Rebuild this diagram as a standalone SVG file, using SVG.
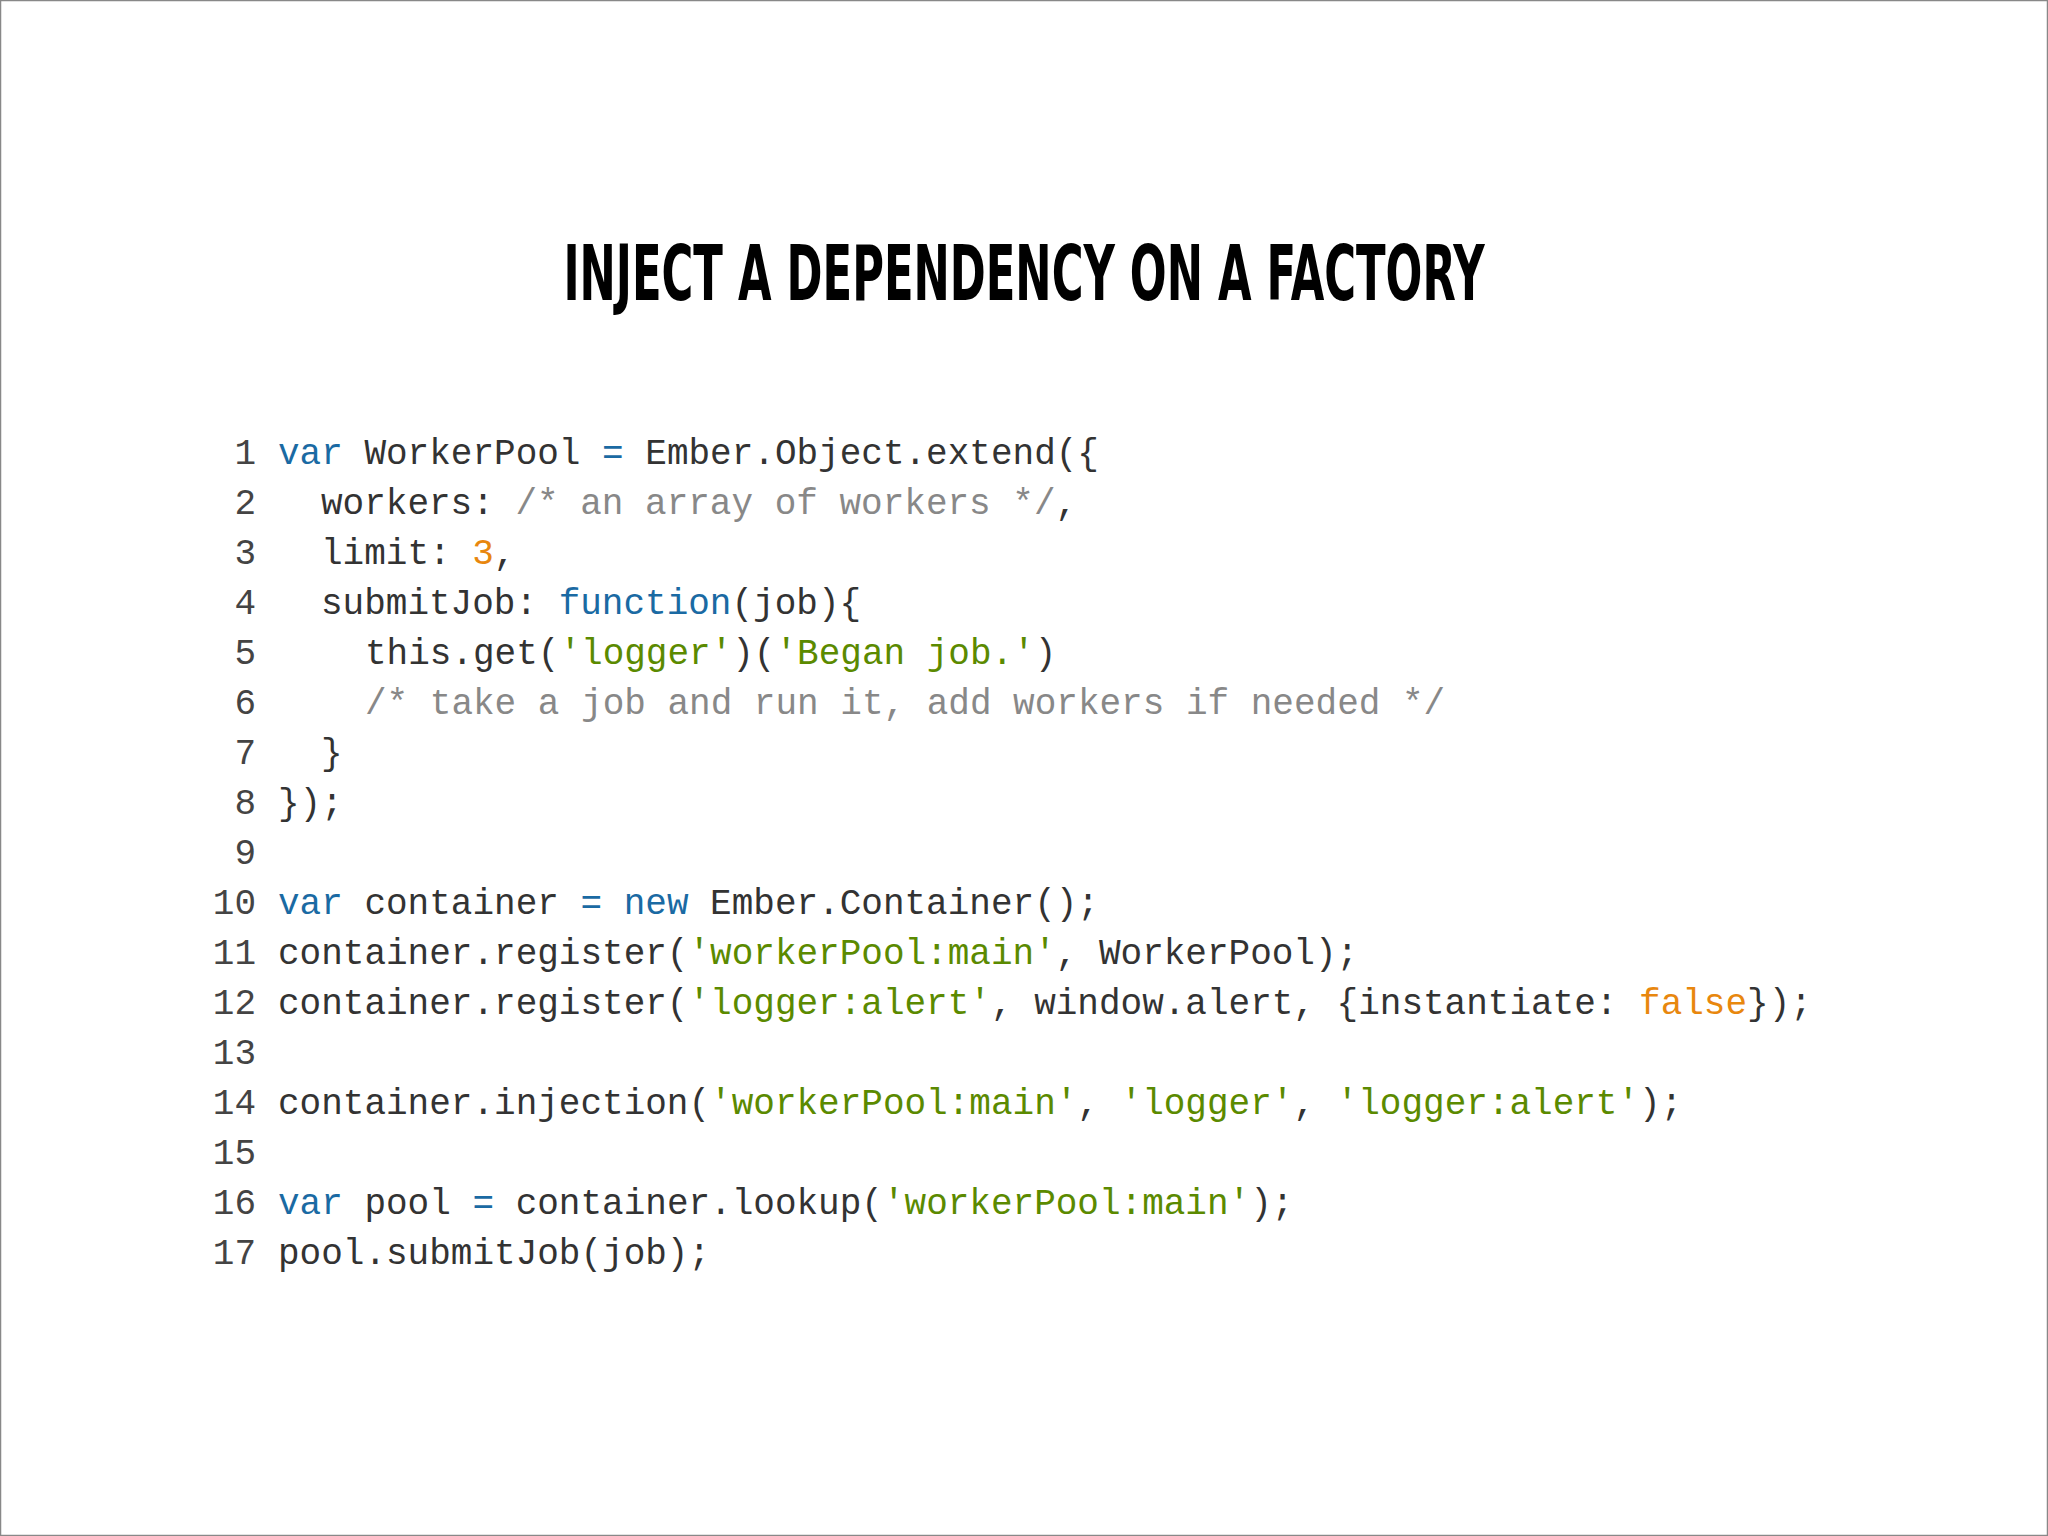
<svg xmlns="http://www.w3.org/2000/svg" width="2048" height="1536" viewBox="0 0 2048 1536">
<style>
.c{font-family:"Liberation Mono","DejaVu Sans Mono",monospace;font-size:36px;fill:#333;white-space:pre}
.n{font-family:"Liberation Mono","DejaVu Sans Mono",monospace;font-size:36px;fill:#444;text-anchor:end}
.k{fill:#1a6aa3}.s{fill:#5b8a00}.m{fill:#888}.o{fill:#e8870e}
</style>
<rect x="0.5" y="0.5" width="2047" height="1535" fill="#fff" stroke="#888" stroke-width="1.5"/>
<text x="1024" y="300" text-anchor="middle" font-family="DejaVu Sans Condensed, Liberation Sans, sans-serif" font-weight="bold" font-size="76" textLength="921" lengthAdjust="spacingAndGlyphs" fill="#000">INJECT A DEPENDENCY ON A FACTORY</text>
<g class="n">
<text x="256" y="464">1</text><text x="256" y="514">2</text><text x="256" y="564">3</text><text x="256" y="614">4</text><text x="256" y="664">5</text><text x="256" y="714">6</text><text x="256" y="764">7</text><text x="256" y="814">8</text><text x="256" y="864">9</text><text x="256" y="914">10</text><text x="256" y="964">11</text><text x="256" y="1014">12</text><text x="256" y="1064">13</text><text x="256" y="1114">14</text><text x="256" y="1164">15</text><text x="256" y="1214">16</text><text x="256" y="1264">17</text>
</g>
<g class="c">
<text x="278" y="464"><tspan class="k">var</tspan> WorkerPool <tspan class="k">=</tspan> Ember.Object.extend({</text>
<text x="321" y="514">workers: <tspan class="m">/* an array of workers */</tspan>,</text>
<text x="321" y="564">limit: <tspan class="o">3</tspan>,</text>
<text x="321" y="614">submitJob: <tspan class="k">function</tspan>(job){</text>
<text x="365" y="664">this.get(<tspan class="s">'logger'</tspan>)(<tspan class="s">'Began job.'</tspan>)</text>
<text x="365" y="714"><tspan class="m">/* take a job and run it, add workers if needed */</tspan></text>
<text x="321" y="764">}</text>
<text x="278" y="814">});</text>
<text x="278" y="914"><tspan class="k">var</tspan> container <tspan class="k">=</tspan> <tspan class="k">new</tspan> Ember.Container();</text>
<text x="278" y="964">container.register(<tspan class="s">'workerPool:main'</tspan>, WorkerPool);</text>
<text x="278" y="1014">container.register(<tspan class="s">'logger:alert'</tspan>, window.alert, {instantiate: <tspan class="o">false</tspan>});</text>
<text x="278" y="1114">container.injection(<tspan class="s">'workerPool:main'</tspan>, <tspan class="s">'logger'</tspan>, <tspan class="s">'logger:alert'</tspan>);</text>
<text x="278" y="1214"><tspan class="k">var</tspan> pool <tspan class="k">=</tspan> container.lookup(<tspan class="s">'workerPool:main'</tspan>);</text>
<text x="278" y="1264">pool.submitJob(job);</text>
</g>
</svg>
